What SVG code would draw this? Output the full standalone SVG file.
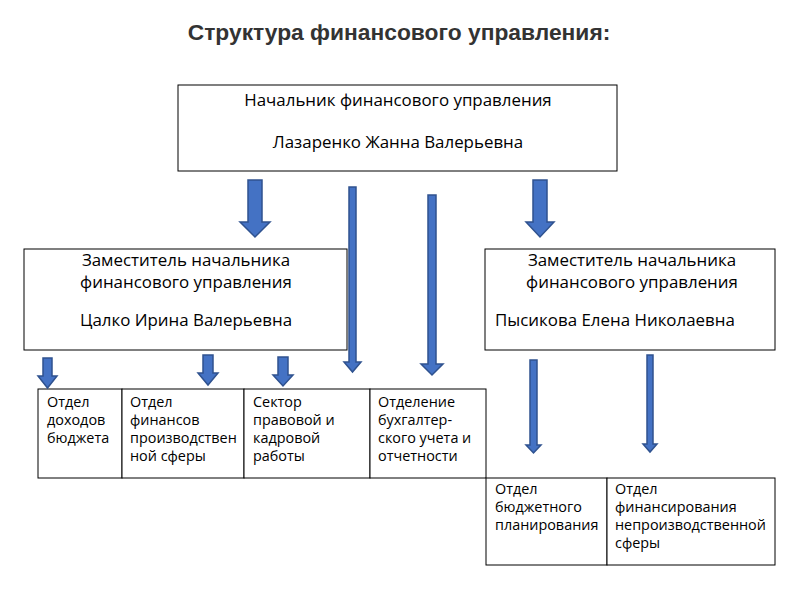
<svg xmlns="http://www.w3.org/2000/svg" width="806" height="599" viewBox="0 0 806 599">
<style>
.box{fill:#fff;stroke:#000;stroke-width:1}
.t{font-family:"Open Sans","Liberation Sans",sans-serif;font-size:16.9px;fill:#000}
.s{font-family:"Open Sans","Liberation Sans",sans-serif;font-size:14.4px;fill:#000}
.c{text-anchor:middle}
.arr{fill:#4472C4;stroke:#2F528F;stroke-width:1.5}
.title{font-family:"Liberation Sans",Arial,sans-serif;font-size:22.8px;font-weight:bold;fill:#333;text-anchor:middle}
</style>
<rect width="806" height="599" fill="#fff"/>
<text class="title" x="399" y="40">Структура финансового управления:</text>

<g id="head">
<rect class="box" x="178" y="85" width="439" height="86"/>
<text class="t c" x="398" y="106">Начальник финансового управления</text>
<text class="t c" x="398" y="148">Лазаренко Жанна Валерьевна</text>
</g>

<g id="deputy1">
<rect class="box" x="24" y="249" width="323" height="101"/>
<text class="t c" x="186" y="266">Заместитель начальника</text>
<text class="t c" x="186" y="288">финансового управления</text>
<text class="t c" x="186" y="326">Цалко Ирина Валерьевна</text>
</g>

<g id="deputy2">
<rect class="box" x="485" y="249" width="290" height="101"/>
<text class="t c" x="632" y="266">Заместитель начальника</text>
<text class="t c" x="632" y="288">финансового управления</text>
<text class="t" x="495" y="326">Пысикова Елена Николаевна</text>
</g>

<g id="dept1">
<rect class="box" x="38" y="389" width="84" height="89"/>
<text class="s" x="47" y="407">Отдел</text>
<text class="s" x="47" y="425">доходов</text>
<text class="s" x="47" y="443">бюджета</text>
</g>
<g id="dept2">
<rect class="box" x="122" y="389" width="122" height="89"/>
<text class="s" x="130" y="407">Отдел</text>
<text class="s" x="130" y="425">финансов</text>
<text class="s" x="130" y="443">производствен</text>
<text class="s" x="130" y="461">ной сферы</text>
</g>
<g id="dept3">
<rect class="box" x="244" y="389" width="126" height="89"/>
<text class="s" x="253" y="407">Сектор</text>
<text class="s" x="253" y="425">правовой и</text>
<text class="s" x="253" y="443">кадровой</text>
<text class="s" x="253" y="461">работы</text>
</g>
<g id="dept4">
<rect class="box" x="370" y="389" width="116" height="89"/>
<text class="s" x="378" y="407">Отделение</text>
<text class="s" x="378" y="425">бухгалтер-</text>
<text class="s" x="378" y="443">ского учета и</text>
<text class="s" x="378" y="461">отчетности</text>
</g>
<g id="dept5">
<rect class="box" x="486" y="478" width="121" height="87"/>
<text class="s" x="495" y="494">Отдел</text>
<text class="s" x="495" y="512">бюджетного</text>
<text class="s" x="495" y="530">планирования</text>
</g>
<g id="dept6">
<rect class="box" x="607" y="478" width="168" height="87"/>
<text class="s" x="615" y="494">Отдел</text>
<text class="s" x="615" y="512">финансирования</text>
<text class="s" x="615" y="530">непроизводственной</text>
<text class="s" x="615" y="548">сферы</text>
</g>

<g id="connectors">
<polygon class="arr" points="248,180 262,180 262,222 270,222 255,237 240,222 248,222"/>
<polygon class="arr" points="533,180 547,180 547,222 554,222 540,237 526,222 533,222"/>
<polygon class="arr" points="349,187 356,187 356,362 361,362 352.5,372 344,362 349,362"/>
<polygon class="arr" points="428,195 436,195 436,364 443,364 432,375 421,364 428,364"/>
<polygon class="arr" points="43,358 52,358 52,376 57,376 47.5,388 38,376 43,376"/>
<polygon class="arr" points="203,355 213,355 213,373 218,373 208,385 198,373 203,373"/>
<polygon class="arr" points="278,357 288,357 288,375 293,375 283,386 273,375 278,375"/>
<polygon class="arr" points="530,360 537,360 537,445 541,445 533.5,453 526,445 530,445"/>
<polygon class="arr" points="647,355 653,355 653,444 657,444 650,452 643,444 647,444"/>
</g>
</svg>
